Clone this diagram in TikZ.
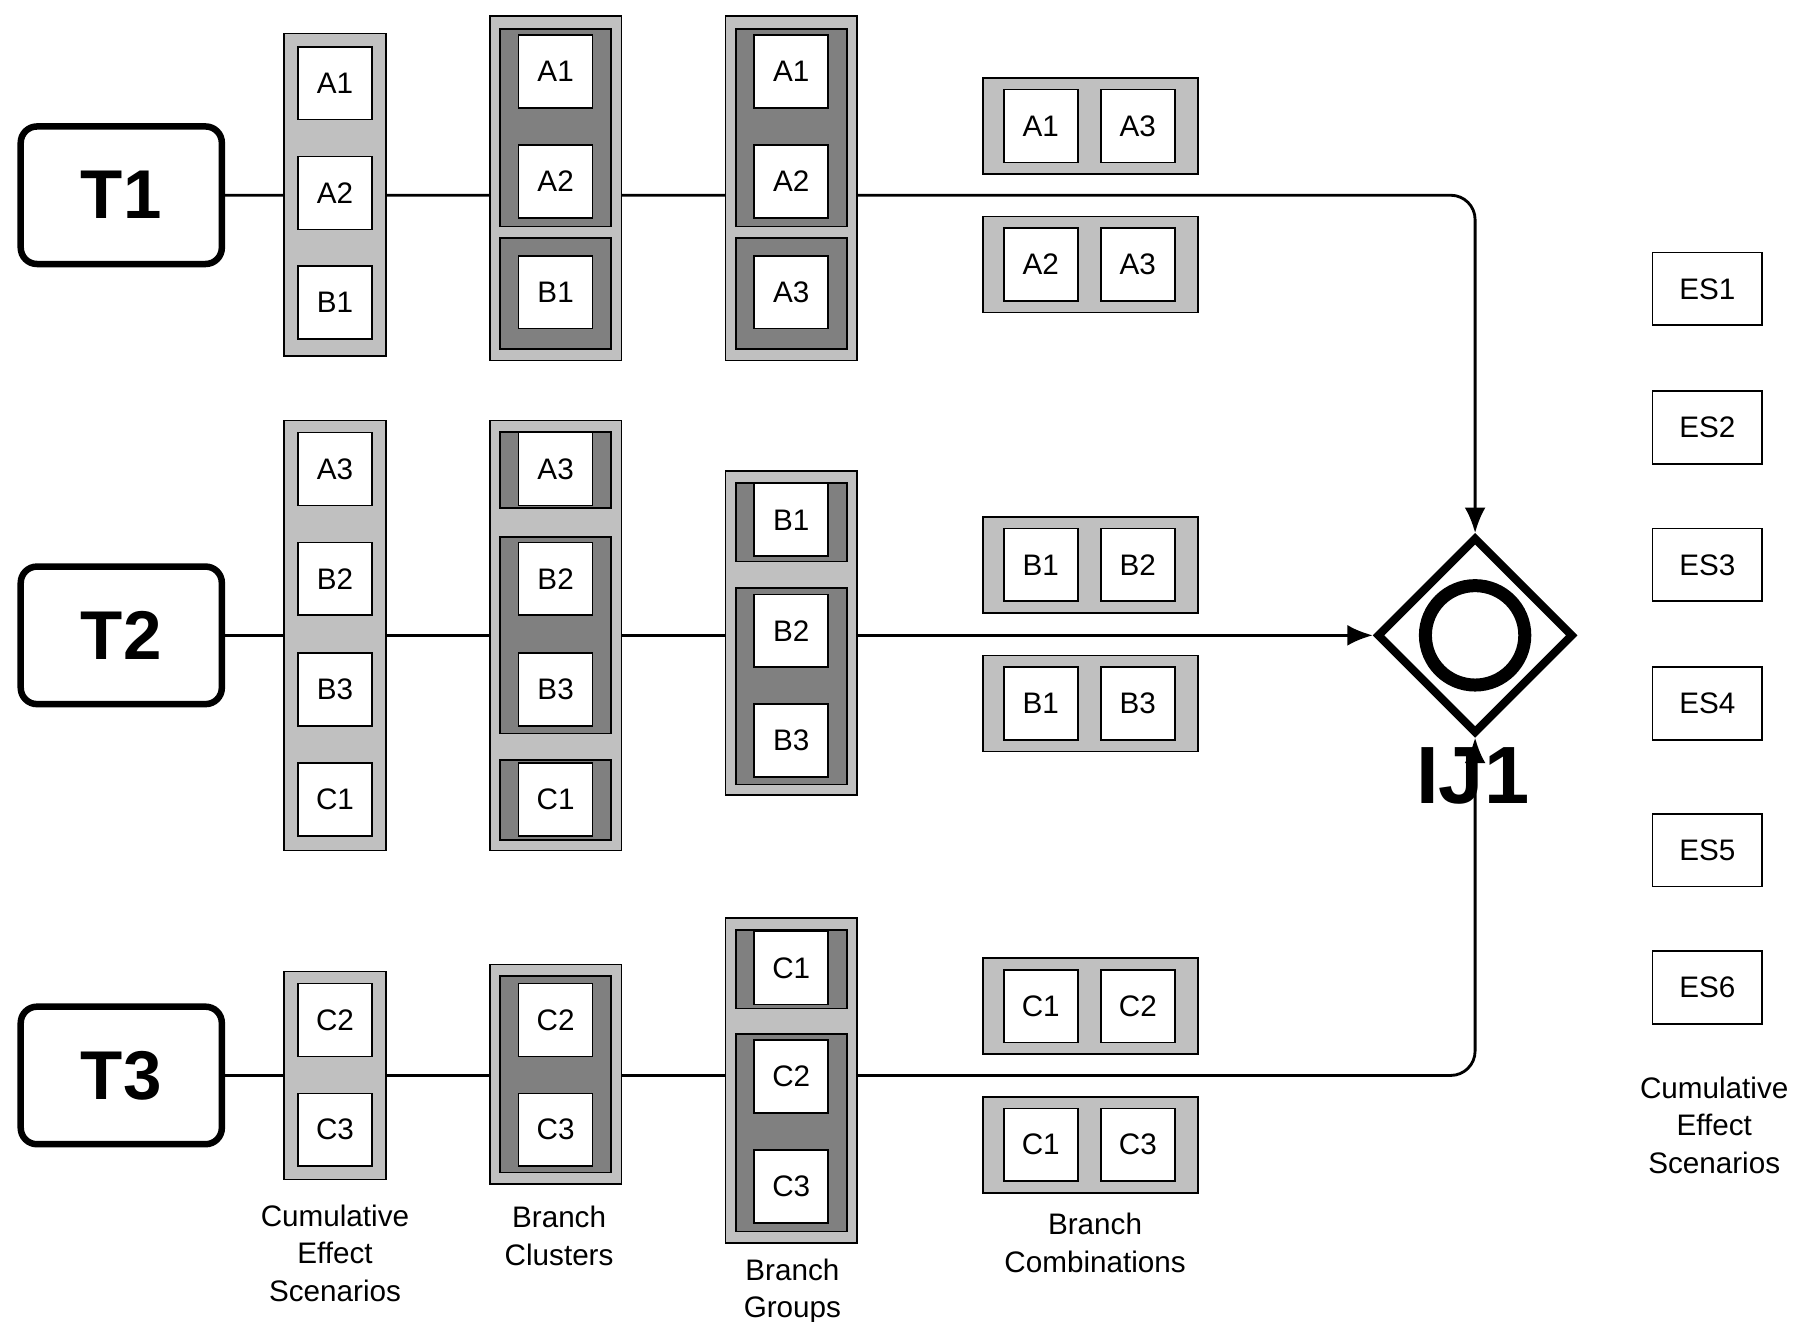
\documentclass[tikz,border=0pt]{standalone}
\usepackage{fontspec}
\setmainfont{Liberation Sans}
\usetikzlibrary{positioning, arrows.meta, shapes.geometric, backgrounds}
\definecolor{lightgray}{HTML}{C0C0C0}
\definecolor{darkgray}{HTML}{808080}
\tikzset{
    trigger/.style={rectangle, draw, line width=1.6pt, rounded corners=4pt,
        minimum width=1.74cm, minimum height=1.19cm, font=\fontsize{17}{17}\selectfont\bfseries},
    item/.style={rectangle, draw, fill=white, minimum width=0.64cm, minimum height=0.63cm,
        inner sep=0pt, font=\fontsize{7.3}{8}\selectfont},
    esbox/.style={item, minimum width=0.95cm},
    outer/.style={rectangle, draw, fill=lightgray, inner sep=0pt},
    inner/.style={rectangle, draw, fill=darkgray, inner sep=0pt},
    caption/.style={align=center, font=\fontsize{7.3}{9.2}\selectfont},
    flow/.style={-{Latex[length=2.2mm,width=1.8mm]}, line width=0.7pt}
}
\newcommand{\panel}[6]{% name, x, y, width, height, style
    \node[#6, minimum width=#4cm, minimum height=#5cm] (#1) at (#2,#3) {};}
\begin{document}
\begin{tikzpicture}[x=0.01cm, y=-0.01cm]
    \useasboundingbox (0,0) rectangle (1560,1144);

    % --- TRIGGERS ---
    \node[trigger] (t1) at (105,169) {T1};
    \node[trigger] (t2) at (105,550) {T2};
    \node[trigger] (t3) at (105,931) {T3};

    % --- CUMULATIVE EFFECT SCENARIOS ---
    \panel{ces1}{290}{168.5}{0.88}{2.79}{outer}
    \panel{ces2}{290}{550}{0.88}{3.72}{outer}
    \panel{ces3}{290}{931}{0.88}{1.80}{outer}
    \node[item] (c1a) at (290,72) {A1};
    \node[item] (c1b) at (290,167) {A2};
    \node[item] (c1c) at (290,262) {B1};
    \node[item] (c2a) at (290,406) {A3};
    \node[item] (c2b) at (290,501) {B2};
    \node[item] (c2c) at (290,597) {B3};
    \node[item] (c2d) at (290,692) {C1};
    \node[item] (c3a) at (290,883) {C2};
    \node[item] (c3b) at (290,978) {C3};

    % --- BRANCH CLUSTERS ---
    \panel{bc1}{481}{163}{1.14}{2.98}{outer}
    \panel{bc2}{481}{550}{1.14}{3.72}{outer}
    \panel{bc3}{481}{930}{1.14}{1.90}{outer}
    \panel{bc1a}{481}{110.5}{0.96}{1.71}{inner}
    \panel{bc1b}{481}{254}{0.96}{0.96}{inner}
    \panel{bc2a}{481}{407}{0.96}{0.66}{inner}
    \panel{bc2b}{481}{550}{0.96}{1.70}{inner}
    \panel{bc2c}{481}{692.5}{0.96}{0.69}{inner}
    \panel{bc3a}{481}{930}{0.96}{1.70}{inner}
    \node[item] (k1a) at (481,62) {A1};
    \node[item] (k1b) at (481,157) {A2};
    \node[item] (k1c) at (481,253) {B1};
    \node[item] (k2a) at (481,406) {A3};
    \node[item] (k2b) at (481,501) {B2};
    \node[item] (k2c) at (481,597) {B3};
    \node[item] (k2d) at (481,692) {C1};
    \node[item] (k3a) at (481,883) {C2};
    \node[item] (k3b) at (481,978) {C3};

    % --- BRANCH GROUPS ---
    \panel{bg1}{685}{163}{1.14}{2.98}{outer}
    \panel{bg2}{685}{548}{1.14}{2.80}{outer}
    \panel{bg3}{685}{935.5}{1.14}{2.81}{outer}
    \panel{bg1a}{685}{110.5}{0.96}{1.71}{inner}
    \panel{bg1b}{685}{254}{0.96}{0.96}{inner}
    \panel{bg2a}{685}{452}{0.96}{0.68}{inner}
    \panel{bg2b}{685}{594}{0.96}{1.70}{inner}
    \panel{bg3a}{685}{839}{0.96}{0.68}{inner}
    \panel{bg3b}{685}{980.5}{0.96}{1.71}{inner}
    \node[item] (g1a) at (685,62) {A1};
    \node[item] (g1b) at (685,157) {A2};
    \node[item] (g1c) at (685,253) {A3};
    \node[item] (g2a) at (685,450) {B1};
    \node[item] (g2b) at (685,546) {B2};
    \node[item] (g2c) at (685,641) {B3};
    \node[item] (g3a) at (685,838) {C1};
    \node[item] (g3b) at (685,932) {C2};
    \node[item] (g3c) at (685,1027) {C3};

    % --- BRANCH COMBINATIONS ---
    \foreach \y/\p/\q [count=\i] in {109/A1/A3, 229/A2/A3, 489/B1/B2, 609/B1/B3, 871/C1/C2, 991/C1/C3} {
        \panel{bk\i}{944}{\y}{1.86}{0.83}{outer}
        \node[item] (bk\i a) at (901,\y) {\p};
        \node[item] (bk\i b) at (985,\y) {\q};
    }

    % --- INCLUSIVE JOIN ---
    \node[diamond, draw, line width=2pt, minimum width=1.7cm, minimum height=1.7cm, inner sep=0pt] (ij) at (1277,550) {};
    \node[circle, draw, line width=3.2pt, minimum size=0.86cm, inner sep=0pt] (ijc) at (ij) {};
    \node[font=\fontsize{20}{20}\selectfont\bfseries] (ijl) at (1275,672) {IJ1};

    % --- ES OUTPUTS ---
    \foreach \y [count=\i] in {250,370,489,609,736,855}
        \node[esbox] (es\i) at (1478,\y) {ES\i};

    % --- CAPTIONS ---
    \node[caption] (cap1) at (290,1085) {Cumulative\\Effect\\Scenarios};
    \node[caption] (cap2) at (484,1070) {Branch\\Clusters};
    \node[caption] (cap3) at (686,1118) {Branch\\Groups};
    \node[caption] (cap4) at (948,1076) {Branch\\Combinations};
    \node[caption] (cap5) at (1484,974) {Cumulative\\Effect\\Scenarios};

    % --- FLOWS ---
    \coordinate (j1) at (1277,169);
    \coordinate (j3) at (1277,931);
    \begin{scope}[on background layer]
        \draw[flow, rounded corners=6pt] (t1.east) -- (j1) -- (ij.north);
        \draw[flow] (t2.east) -- (ij.west);
        \draw[flow, rounded corners=6pt] (t3.east) -- (j3) -- (ij.south);
    \end{scope}
\end{tikzpicture}
\end{document}
